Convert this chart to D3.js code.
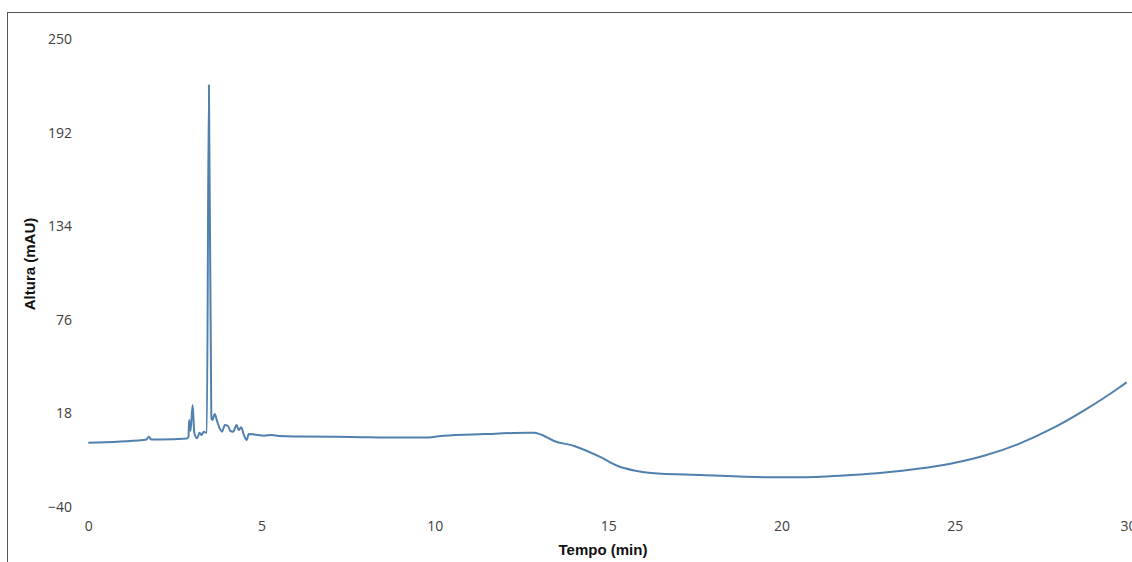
<!DOCTYPE html>
<html>
<head>
<meta charset="utf-8">
<script src="https://cdn.jsdelivr.net/npm/d3@7"></script>
<style>
  html, body { margin: 0; padding: 0; background: #fff; }
  svg { display: block; }
</style>
</head>
<body>
<svg id="chart" width="1132" height="562"></svg>
<script>
// Data
const times = [0, 1.59, 1.68, 1.74, 1.82, 2.08, 2.85, 2.89, 2.91, 2.95, 3.01, 3.06, 3.14, 3.21, 3.27, 3.33, 3.40, 3.42, 3.48, 3.55,
  3.58, 3.65, 3.72, 3.79, 3.86, 3.94, 4.03, 4.10, 4.18, 4.28, 4.34, 4.41, 4.49, 4.57, 4.63, 4.78, 5.07, 5.3, 5.5, 6.13, 7.57,
  9.02, 9.79, 10.26, 11.42, 12.68, 12.86, 13.06, 13.44, 14.02, 14.80, 15.28, 15.75, 16.24, 17.69, 19.62, 20.58, 22.02, 22.98,
  23.93, 24.91, 25.87, 26.85, 27.80, 28.76, 29.74, 29.96];
const heights = [-0.2, 1.5, 1.8, 3.6, 1.8, 1.8, 2.4, 3.4, 13.9, 7.1, 23.2, 5.9, 2.6, 6.0, 4.6, 6.7, 6.0, 6.0, 221.5, 15.0,
  13.9, 17.6, 12.9, 8.8, 6.7, 10.8, 10.2, 7.1, 6.7, 10.8, 7.7, 9.4, 4.6, 1.5, 5.2, 5.0, 4.2, 4.6, 4.0, 3.7, 3.4,
  3.0, 3.0, 4.2, 5.2, 6.0, 6.0, 4.9, 0.9, -2.2, -9.3, -14.6, -17.4, -18.9, -20.2, -21.6, -21.6, -20.2, -18.6,
  -16.3, -13.0, -8.1, -0.9, 8.5, 20.2, 33.9, 37.3];
const xTicks = [0, 5, 10, 15, 20, 25, 30];
const yTicks = [-40, 18, 76, 134, 192, 250];
const xTitle = "Tempo (min)";
const yTitle = "Altura (mAU)";

const svg = d3.select("#chart");

// frame (cropped at right/bottom)
svg.append("rect")
  .attr("x", 7.5).attr("y", 12.5)
  .attr("width", 1140).attr("height", 560)
  .attr("fill", "none").attr("stroke", "#555").attr("stroke-width", 1);

const x = d3.scaleLinear().domain([0, 30]).range([88.3, 1128]);
const y = d3.scaleLinear().domain([-40, 250]).range([507, 39]);

const xAxis = d3.axisBottom(x).tickValues(xTicks).tickSize(0).tickPadding(0).tickFormat(d3.format("d"));
const gx = svg.append("g").attr("transform", "translate(0,520)").call(xAxis);
gx.select(".domain").remove();
gx.selectAll("text").attr("font-family", "'Open Sans', sans-serif").attr("font-size", 14)
  .attr("fill", "#404040").attr("dy", "0.8em");

const yAxis = d3.axisLeft(y).tickValues(yTicks).tickSize(0).tickPadding(0).tickFormat(d3.format("d"));
const gy = svg.append("g").attr("transform", "translate(72,0)").call(yAxis);
gy.select(".domain").remove();
gy.selectAll("text").attr("font-family", "'Open Sans', sans-serif").attr("font-size", 14)
  .attr("fill", "#404040");

const data = times.map((t, i) => ({ t, v: heights[i] }));
const line = d3.line().x(d => x(d.t)).y(d => y(d.v)).curve(d3.curveMonotoneX);

svg.append("path").datum(data)
  .attr("d", line)
  .attr("fill", "none")
  .attr("stroke", "#5080ad")
  .attr("stroke-width", 2)
  .attr("stroke-linejoin", "round");

svg.append("text")
  .attr("x", 603).attr("y", 555)
  .attr("text-anchor", "middle")
  .attr("font-family", "'Liberation Sans', Arial, sans-serif")
  .attr("font-weight", "bold").attr("font-size", 15)
  .attr("fill", "#111")
  .text(xTitle);

svg.append("text")
  .attr("transform", "translate(35,264) rotate(-90)")
  .attr("text-anchor", "middle")
  .attr("font-family", "'Liberation Sans', Arial, sans-serif")
  .attr("font-weight", "bold").attr("font-size", 15)
  .attr("fill", "#111")
  .text(yTitle);
</script>
</body>
</html>
